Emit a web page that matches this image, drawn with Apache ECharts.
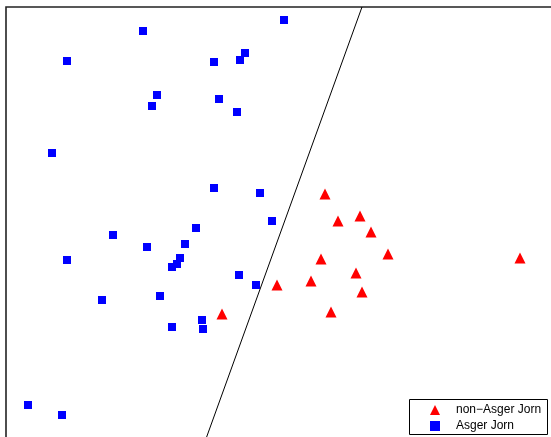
<!DOCTYPE html>
<html>
<head>
<meta charset="utf-8">
<script src="https://cdn.jsdelivr.net/npm/echarts@6/dist/echarts.min.js"></script>
<style>html,body{margin:0;padding:0;background:#fff;}#c{width:551px;height:437px;}</style>
</head>
<body>
<div id="c"></div>
<script>
var seriesNames = ['non\u2212Asger Jorn', 'Asger Jorn'];
var nonJornX = [3.19, 3.32, 3.54, 3.65, 3.82, 5.14, 3.15, 3.50, 3.05, 2.71, 3.56, 3.25, 2.16];
var nonJornY = [2.53, 2.26, 2.31, 2.15, 1.93, 1.89, 1.88, 1.74, 1.66, 1.62, 1.55, 1.35, 1.33];
var jornX = [2.78, 1.37, 0.61, 2.08, 2.39, 2.34, 1.51, 1.46, 2.13, 2.31, 0.46, 2.08, 2.54, 2.66, 1.07, 1.90,
             1.41, 1.79, 1.74, 1.71, 1.66, 0.61, 2.33, 2.50, 0.96, 1.54, 1.96, 1.97, 1.66, 0.22, 0.56];
var jornY = [4.27, 4.16, 3.86, 3.85, 3.94, 3.87, 3.52, 3.41, 3.48, 3.35, 2.94, 2.59, 2.54, 2.26, 2.12, 2.19,
             2.00, 2.03, 1.89, 1.83, 1.80, 1.87, 1.72, 1.62, 1.47, 1.51, 1.27, 1.18, 1.20, 0.42, 0.32];
var boundaryX = [1.97, 3.56];
var boundaryY = [0.00, 4.40];

function zip(a, b) { return a.map(function (v, i) { return [v, b[i]]; }); }

var chart = echarts.init(document.getElementById('c'), null, {renderer: 'canvas'});
chart.setOption({
  animation: false,
  backgroundColor: '#ffffff',
  grid: {left: 6, top: 7, width: 560, height: 440, outerBoundsMode: 'none', containLabel: false,
         show: true, borderColor: '#222222', borderWidth: 1.6, backgroundColor: 'transparent'},
  xAxis: {type: 'value', min: 0, max: 5.6, show: false},
  yAxis: {type: 'value', min: 0, max: 4.4, show: false},
  graphic: [{type: 'rect', shape: {x: 409.5, y: 399.5, width: 138, height: 35}, style: {fill: '#fff', stroke: '#000', lineWidth: 1}, z: 3}],
  legend: {
    orient: 'vertical', left: 430, top: 404, itemWidth: 10, itemHeight: 10, itemGap: 4, padding: 0,
    textStyle: {fontSize: 12, fontFamily: 'Liberation Sans, Arial, sans-serif', color: '#000', padding: [0, 0, 0, 11]},
    data: [{name: seriesNames[0], icon: 'triangle'}, {name: seriesNames[1], icon: 'rect'}],
    z: 5
  },
  series: [
    {type: 'line', data: zip(boundaryX, boundaryY), showSymbol: false, symbol: 'none', lineStyle: {color: '#000', width: 1}, silent: true, z: 1},
    {name: seriesNames[0], type: 'scatter', data: zip(nonJornX, nonJornY), symbol: 'triangle', symbolSize: 11, itemStyle: {color: '#ff0000', opacity: 1}, z: 2},
    {name: seriesNames[1], type: 'scatter', data: zip(jornX, jornY), symbol: 'rect', symbolSize: 8, itemStyle: {color: '#0000ff', opacity: 1}, z: 2}
  ]
});
</script>
</body>
</html>
